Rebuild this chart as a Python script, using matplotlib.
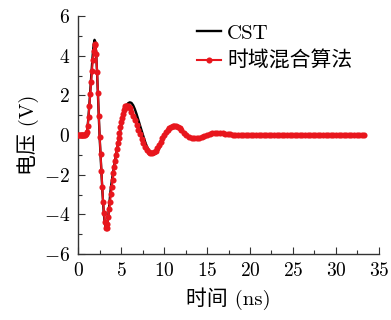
"""
plot.py — CST vs time-domain hybrid method, voltage waveform.
"""

import numpy as np
import matplotlib
matplotlib.use("Agg")
import matplotlib.pyplot as plt
from matplotlib.ticker import MultipleLocator

# ---------------------------------------------------------------------------
# Data
# ---------------------------------------------------------------------------
# CST reference waveform (ns, V)
t_cst = [0.0, 0.9, 1.0, 1.1, 1.2, 1.3, 1.4, 1.5, 1.6, 1.7, 1.8, 1.9, 2.0, 2.1, 2.2,
         2.3, 2.4, 2.5, 2.6, 2.7, 2.8, 2.9, 3.0, 3.1, 3.2, 3.3, 3.4, 3.5, 3.6, 3.7,
         3.8, 3.9, 4.0, 4.2, 4.4, 4.6, 4.8, 5.0, 5.2, 5.4, 5.6, 5.8, 6.0, 6.2, 6.4,
         6.6, 6.8, 7.0, 7.2, 7.4, 7.6, 7.8, 8.0, 8.2, 8.4, 8.6, 8.8, 9.0, 9.2, 9.4,
         9.6, 9.8, 10.0, 10.2, 10.4, 10.6, 10.8, 11.0, 11.2, 11.4, 11.6, 11.8, 12.0,
         12.3, 12.6, 12.9, 13.2, 13.5, 13.8, 14.1, 14.4, 14.7, 15.0, 15.5, 16.0,
         16.5, 17.0, 17.5, 18.0, 19.0, 20.0, 22.0, 24.0, 26.0, 28.0, 30.0, 33.4]
v_cst = [0.0, 0.0, 0.1, 0.45, 0.95, 1.55, 2.2, 2.85, 3.5, 4.1, 4.55, 4.8, 4.7, 4.05, 3.1,
         2.0, 0.9, -0.15, -1.0, -1.85, -2.7, -3.45, -4.05, -4.45, -4.7, -4.72, -4.5, -4.1, -3.6, -3.1,
         -2.65, -2.35, -2.05, -1.5, -1.0, -0.5, 0.0, 0.45, 0.85, 1.3, 1.48, 1.6, 1.65, 1.62, 1.5,
         1.3, 1.05, 0.77, 0.48, 0.2, -0.08, -0.35, -0.58, -0.76, -0.89, -0.96, -0.98, -0.94, -0.84, -0.7,
         -0.52, -0.33, -0.15, 0.02, 0.17, 0.3, 0.4, 0.47, 0.5, 0.5, 0.46, 0.39, 0.3,
         0.15, 0.01, -0.1, -0.17, -0.2, -0.2, -0.17, -0.12, -0.06, 0.0, 0.07, 0.11,
         0.12, 0.1, 0.06, 0.03, 0.0, -0.02, 0.0, 0.01, 0.0, 0.0, 0.0, 0.0]

# Time-domain hybrid algorithm (ns, V)
t_hyb = [0.0, 0.1, 0.2, 0.3, 0.4, 0.5, 0.6, 0.7, 0.8, 0.9, 1.0, 1.1, 1.2, 1.3, 1.4,
         1.5, 1.6, 1.7, 1.8, 1.9, 2.0, 2.1, 2.2, 2.3, 2.4, 2.5, 2.6, 2.7, 2.8, 2.9,
         3.0, 3.1, 3.2, 3.3, 3.4, 3.5, 3.6, 3.7, 3.8, 3.9, 4.0, 4.1, 4.2, 4.3, 4.4,
         4.5, 4.6, 4.7, 4.8, 4.9, 5.0, 5.1, 5.2, 5.3, 5.4, 5.5, 5.6, 5.7, 5.8, 5.9,
         6.0, 6.2, 6.4, 6.6, 6.8, 7.0, 7.2, 7.4, 7.6, 7.8, 8.0, 8.2, 8.4, 8.6, 8.8,
         9.0, 9.2, 9.4, 9.6, 9.8, 10.0, 10.2, 10.4, 10.6, 10.8, 11.0, 11.2, 11.4, 11.6,
         11.8, 12.0, 12.3, 12.6, 12.9, 13.2, 13.5, 13.8, 14.1, 14.4, 14.7, 15.0, 15.3,
         15.6, 15.9, 16.2, 16.5, 16.8, 17.1, 17.4, 17.7, 18.0, 18.3, 18.6, 18.9, 19.2,
         19.5, 19.8, 20.1, 20.4, 20.7, 21.0, 21.3, 21.6, 21.9, 22.2, 22.5, 22.8, 23.1,
         23.4, 23.7, 24.0, 24.3, 24.6, 24.9, 25.2, 25.5, 25.8, 26.1, 26.4, 26.7, 27.0,
         27.3, 27.6, 27.9, 28.2, 28.5, 28.8, 29.1, 29.4, 29.7, 30.0, 30.3, 30.6, 30.9,
         31.2, 31.5, 31.8, 32.1, 32.4, 32.7, 33.0, 33.3]
v_hyb = [0.0, 0.0, 0.0, 0.0, 0.0, 0.0, 0.0, 0.0, 0.02, 0.05, 0.15, 0.45, 0.9, 1.45, 2.05,
         2.65, 3.25, 3.8, 4.25, 4.55, 4.6, 4.1, 3.2, 2.1, 0.95, -0.1, -0.95, -1.8, -2.6, -3.35,
         -3.95, -4.4, -4.68, -4.7, -4.5, -4.15, -3.75, -3.35, -2.95, -2.6, -2.25, -1.9, -1.6, -1.3, -1.0,
         -0.7, -0.42, -0.15, 0.12, 0.4, 0.65, 0.88, 1.08, 1.25, 1.36, 1.44, 1.48, 1.48, 1.45, 1.41,
         1.35, 1.18, 0.97, 0.74, 0.5, 0.26, 0.03, -0.2, -0.42, -0.6, -0.74, -0.84, -0.9, -0.91, -0.87,
         -0.78, -0.65, -0.5, -0.33, -0.16, 0.0, 0.14, 0.26, 0.35, 0.42, 0.46, 0.47, 0.45, 0.4,
         0.33, 0.25, 0.12, 0.0, -0.09, -0.15, -0.17, -0.17, -0.14, -0.1, -0.05, 0.0, 0.04,
         0.08, 0.1, 0.11, 0.1, 0.09, 0.07, 0.05, 0.03, 0.01, -0.01, -0.02, -0.02, -0.02,
         -0.01, 0.0, 0.01, 0.02, 0.02, 0.02, 0.01, 0.0, 0.0, -0.01, -0.01, -0.01, 0.0,
         0.0, 0.01, 0.01, 0.01, 0.0, 0.0, 0.0, -0.01, 0.0, 0.0, 0.0, 0.01, 0.0,
         0.0, 0.0, 0.0, 0.0, 0.0, 0.0, 0.0, 0.0, 0.0, 0.0, 0.0, 0.0, 0.0,
         0.0, 0.0, 0.0, 0.0, 0.0, 0.0, 0.0, 0.0]

xlabel = "时间 (ns)"
ylabel = "电压 (V)"

# ---------------------------------------------------------------------------
# Style
# ---------------------------------------------------------------------------
plt.rcParams["font.family"] = ["cmr10", "Noto Sans CJK SC", "DejaVu Sans"]
plt.rcParams["mathtext.fontset"] = "cm"
plt.rcParams["axes.formatter.use_mathtext"] = True
plt.rcParams["axes.unicode_minus"] = True

FS = 14
FS_LABEL = 15
AX_COLOR = "#333333"

fig = plt.figure(figsize=(3.91, 3.2), dpi=100)
ax = fig.add_axes([0.2, 0.206, 0.769, 0.744])

ax.plot(t_cst, v_cst, color="black", linewidth=1.7, label="CST", zorder=2)
ax.plot(t_hyb, v_hyb, color="#e8161d", linewidth=1.5, marker="o", markersize=4.4,
        markeredgewidth=0, label="时域混合算法", zorder=3)

ax.set_xlim(0, 35)
ax.set_ylim(-6, 6)
ax.xaxis.set_major_locator(MultipleLocator(5))
ax.xaxis.set_minor_locator(MultipleLocator(2.5))
ax.yaxis.set_major_locator(MultipleLocator(2))
ax.yaxis.set_minor_locator(MultipleLocator(1))

for side in ("top", "right"):
    ax.spines[side].set_visible(False)
for side in ("left", "bottom"):
    ax.spines[side].set_color(AX_COLOR)
    ax.spines[side].set_linewidth(1.0)

ax.tick_params(which="both", direction="in", colors=AX_COLOR, labelcolor="black",
               labelsize=FS, width=0.8)
ax.tick_params(which="major", length=5, pad=6)
ax.tick_params(which="minor", length=3)

ax.set_xlabel(xlabel, fontsize=FS_LABEL, labelpad=5)
ax.set_ylabel(ylabel, fontsize=FS_LABEL, labelpad=3)

ax.legend(loc="upper right", bbox_to_anchor=(0.975, 1.045), frameon=False,
          fontsize=FS_LABEL, handlelength=1.15, handletextpad=0.3, labelspacing=0.4,
          numpoints=1)

plt.savefig("out.png", dpi=100)
plt.close()
